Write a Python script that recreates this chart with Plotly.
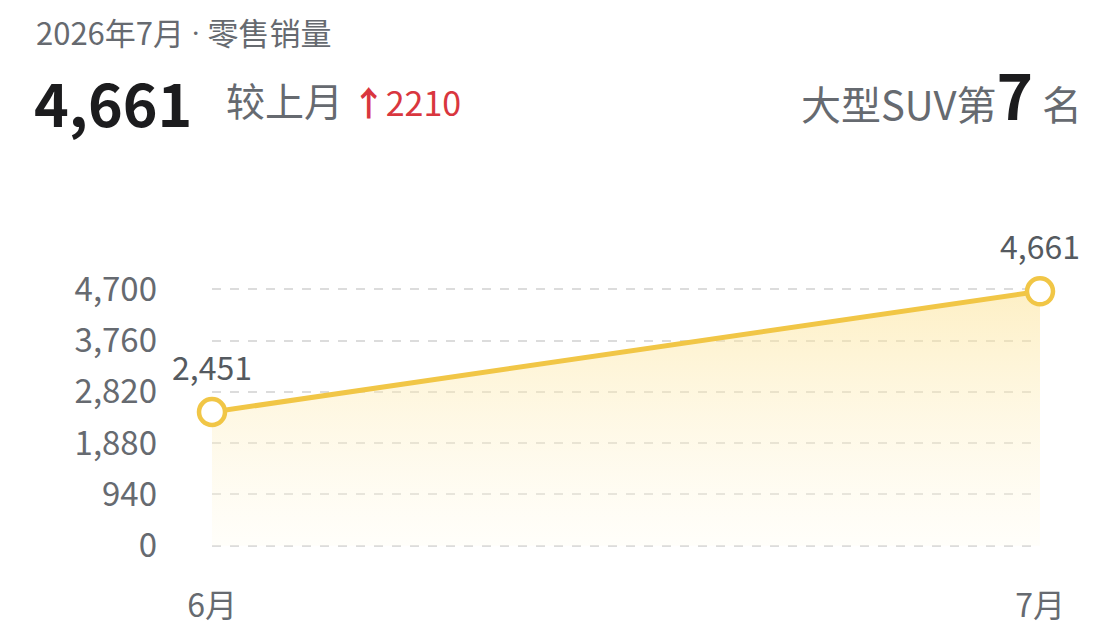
import plotly.graph_objects as go

months = ['6月', '7月']
sales = [2451, 4661]
y_ticks = [0, 940, 1880, 2820, 3760, 4700]

W, H = 1120, 644
# the page body adds an 8px offset, so the margins are shifted to compensate
OFF = 8
L, R, T, B = 212 - OFF, 80 + OFF, 287 - OFF, 96 + OFF
FONT = "Noto Sans CJK SC"


def px_x(p):
    return (p - OFF - L) / (W - L - R)


def px_y(p):
    return (H - B - (p - OFF)) / (H - T - B)


fig = go.Figure()

fig.add_trace(go.Scatter(
    x=months,
    y=sales,
    mode='lines+markers',
    line={'color': '#f1c646', 'width': 5},
    marker={'size': 26, 'color': 'white', 'line': {'color': '#f1c646', 'width': 4.5}},
    fill='tozeroy',
    fillgradient={
        'type': 'vertical',
        'colorscale': [[0, 'rgba(255,252,238,0.3)'], [1, 'rgba(252,224,140,0.5)']],
    },
    cliponaxis=False,
    hoverinfo='skip',
))

fig.update_xaxes(
    type='category',
    range=[0, 1],
    showgrid=False,
    showline=False,
    zeroline=False,
    ticks='',
    ticklabelstandoff=36,
    tickfont={'family': FONT, 'size': 32, 'color': '#666a70'},
)

fig.update_yaxes(
    range=[-40, 4740],
    tickvals=y_ticks,
    ticktext=[f'{v:,}' for v in y_ticks],
    showgrid=True,
    gridcolor='#dcdcdc',
    griddash='dash',
    gridwidth=1.5,
    zeroline=False,
    showline=False,
    ticks='',
    ticklabelstandoff=54,
    tickfont={'family': FONT, 'size': 33, 'color': '#666a70'},
)

annotations = [
    dict(x=px_x(34), y=px_y(31),
         text='2026年7月<span style="font-family:Roboto"> · </span>零售销量',
         font={'family': FONT, 'size': 31, 'color': '#666a70'}, xanchor='left'),
    dict(x=px_x(32), y=px_y(101), text='<b>4,661</b>',
         font={'family': FONT, 'size': 59, 'color': '#1c1c1e'}, xanchor='left'),
    dict(x=px_x(224), y=px_y(99),
         text='较上月 <span style="color:#d9363e;font-size:34px"><b>↑</b>2210</span>',
         font={'family': FONT, 'size': 39, 'color': '#666a70'}, xanchor='left'),
    dict(x=px_x(1084), y=px_y(93),
         text='大型SUV第<b><span style="font-size:62px;color:#1c1c1e">7</span></b> 名',
         font={'family': FONT, 'size': 40, 'color': '#666a70'}, xanchor='right'),
]
for a in annotations:
    a.update(xref='paper', yref='paper', yanchor='middle')

for m, v in zip(months, sales):
    annotations.append(dict(
        x=m, y=v, xref='x', yref='y', text=f'{v:,}',
        yshift=46, yanchor='middle',
        font={'family': FONT, 'size': 32, 'color': '#555a60'},
    ))

for a in annotations:
    a['showarrow'] = False

fig.update_layout(
    width=W,
    height=H,
    margin={'l': L, 'r': R, 't': T, 'b': B},
    plot_bgcolor='white',
    paper_bgcolor='white',
    showlegend=False,
    annotations=annotations,
)

fig.write_html("out.html")
